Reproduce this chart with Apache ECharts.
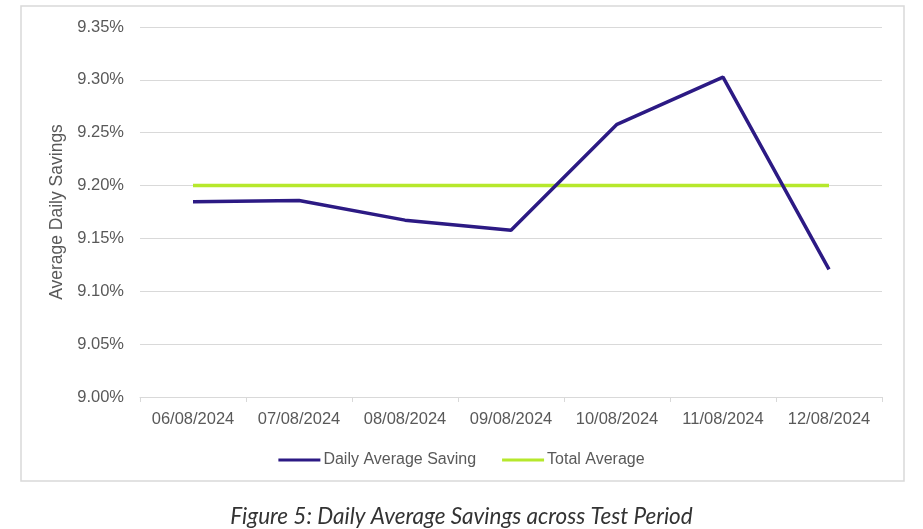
<!DOCTYPE html>
<html>
<head>
<meta charset="utf-8">
<script src="https://cdn.jsdelivr.net/npm/echarts@6/dist/echarts.min.js"></script>
<style>
  html, body { margin: 0; padding: 0; background: #fff; }
  #chart { width: 923px; height: 529px; }
</style>
</head>
<body>
<div id="chart"></div>
<script>
// data
var dates = ['06/08/2024', '07/08/2024', '08/08/2024', '09/08/2024', '10/08/2024', '11/08/2024', '12/08/2024'];
var dailySaving = [9.1846, 9.1858, 9.1673, 9.1578, 9.2579, 9.3025, 9.1208];
var totalAverage = [9.2, 9.2, 9.2, 9.2, 9.2, 9.2, 9.2];
var yTicks = { min: 9.0, max: 9.35, step: 0.05 };

var chart = echarts.init(document.getElementById('chart'), null, { renderer: 'canvas' });

var labelColor = '#595959';
var gridColor = '#d9d9d9';

chart.setOption({
    backgroundColor: '#fff',
    animation: false,
    graphic: [
        // outer chart frame
        {
            type: 'rect',
            shape: { x: 21, y: 6, width: 883, height: 475 },
            style: { fill: 'none', stroke: '#d9d9d9', lineWidth: 1.5 },
            z: -1
        }
    ],
    title: {
        text: 'Figure 5: Daily Average Savings across Test Period',
        left: 'center',
        top: 500,
        textStyle: {
            fontFamily: 'Lato',
            fontStyle: 'italic',
            fontWeight: 'normal',
            fontSize: 22.5,
            color: '#333'
        }
    },
    legend: {
        top: 447,
        left: 'center',
        itemWidth: 42,
        itemHeight: 3,
        itemGap: 26,
        icon: 'rect',
        textStyle: { color: labelColor, fontSize: 16, fontFamily: 'Liberation Sans', padding: [0, 0, 0, -2] },
        data: ['Daily Average Saving', 'Total Average']
    },
    grid: { left: 140, right: 41, top: 27, bottom: 132 },
    xAxis: {
        type: 'category',
        data: dates,
        boundaryGap: true,
        axisLine: { lineStyle: { color: gridColor, width: 1 } },
        axisTick: { show: true, length: 5, interval: 0, lineStyle: { color: gridColor } },
        axisLabel: { color: labelColor, fontSize: 16.5, fontFamily: 'Liberation Sans', margin: 14, interval: 0, hideOverlap: false }
    },
    yAxis: {
        type: 'value',
        min: yTicks.min,
        max: yTicks.max,
        interval: yTicks.step,
        name: 'Average Daily Savings',
        nameLocation: 'middle',
        nameGap: 71,
        nameRotate: 90,
        nameTextStyle: { color: labelColor, fontSize: 17.5, fontFamily: 'Liberation Sans' },
        axisLine: { show: false },
        axisTick: { show: false },
        splitLine: { lineStyle: { color: gridColor, width: 1 } },
        axisLabel: {
            color: labelColor,
            fontSize: 16.5,
            fontFamily: 'Liberation Sans',
            margin: 16,
            formatter: function (v) { return v.toFixed(2) + '%'; }
        }
    },
    series: [
        {
            name: 'Daily Average Saving',
            type: 'line',
            data: dailySaving,
            symbol: 'none',
            color: '#2c1a84',
            lineStyle: { width: 3.5, color: '#2c1a84' },
            z: 3
        },
        {
            name: 'Total Average',
            type: 'line',
            data: totalAverage,
            symbol: 'none',
            color: '#b6e82c',
            lineStyle: { width: 3.5, color: '#b6e82c' },
            z: 2
        }
    ]
});
</script>
</body>
</html>
